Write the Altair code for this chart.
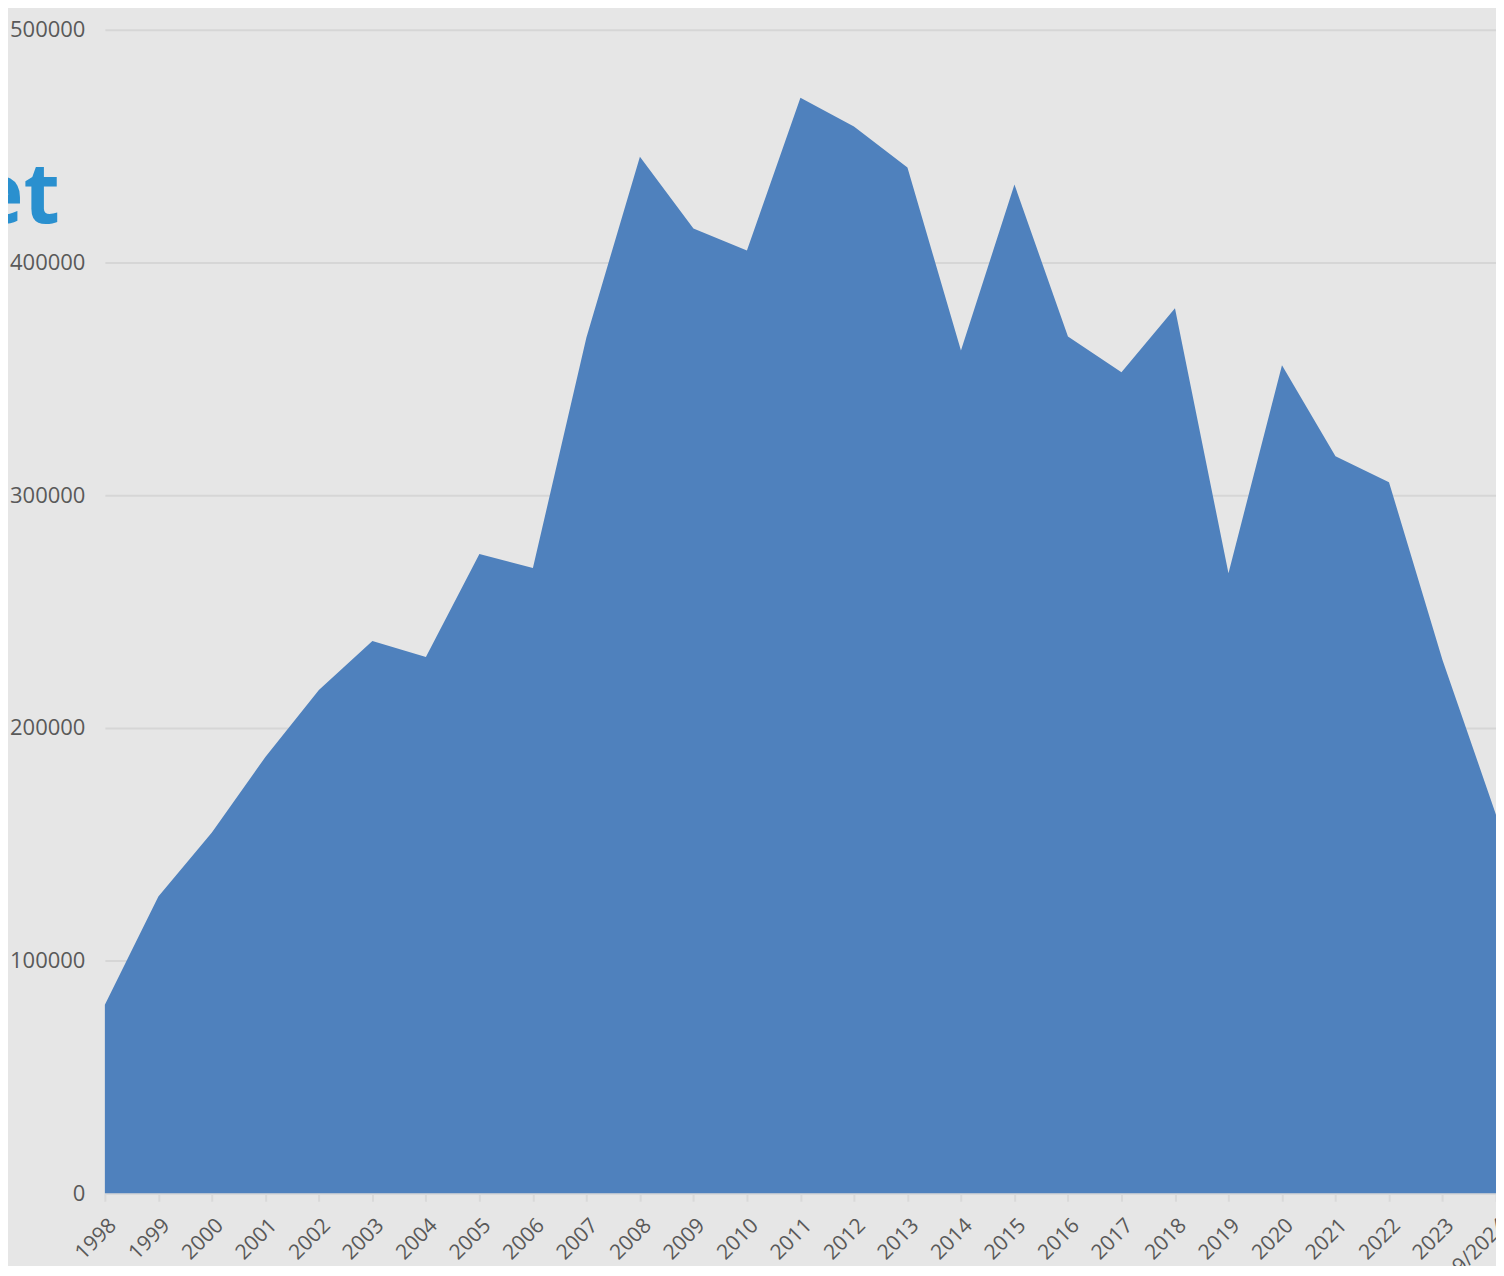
import altair as alt
import pandas as pd

years = ["1998", "1999", "2000", "2001", "2002", "2003", "2004", "2005", "2006",
         "2007", "2008", "2009", "2010", "2011", "2012", "2013", "2014", "2015",
         "2016", "2017", "2018", "2019", "2020", "2021", "2022", "2023", "9/2024"]
values = [81000, 127500, 155000, 187500, 216300, 237300, 230500, 274700, 268700,
          367800, 445500, 414600, 405200, 470800, 458400, 440800, 362200, 433500,
          368200, 352800, 380300, 266500, 355800, 316700, 305600, 229200, 162700]
y_ticks = [0, 100000, 200000, 300000, 400000, 500000]
title_fragment = "et"

df = pd.DataFrame({"year": years, "value": values})

FONT = "Open Sans"

area = alt.Chart(df).mark_area(color="#4f81bd", opacity=1).encode(
    x=alt.X("year:N", sort=None, title=None,
            scale=alt.Scale(type="point", padding=0),
            axis=alt.Axis(labelAngle=-45, labelAlign="right", labelBaseline="top",
                          labelFontSize=21, labelColor="#595959", labelFont=FONT,
                          labelPadding=13, domainColor="#d9d9d9", domainWidth=2,
                          tickColor="#d9d9d9", tickSize=8, tickWidth=2, grid=False,
                          labelOverlap=False)),
    y=alt.Y("value:Q", title=None,
            scale=alt.Scale(domain=[0, 500000], nice=False),
            axis=alt.Axis(values=y_ticks, format="d", labelFontSize=22,
                          labelColor="#595959", labelFont=FONT, labelPadding=20,
                          domain=False, ticks=False, gridColor="#d6d6d6",
                          gridWidth=2)),
)

title = alt.Chart(pd.DataFrame({"t": [title_fragment]})).mark_text(
    align="right", baseline="alphabetic", font=FONT, fontWeight="bold",
    fontSize=84, color="#2a90cf"
).encode(text="t:N", x=alt.value(-45), y=alt.value(193))

chart = alt.layer(area, title).properties(
    width=1393, height=1165,
    autosize=alt.AutoSizeParams(type="none"),
    padding={"left": 97, "top": 21, "right": 0, "bottom": 72},
).configure(background="#e6e6e6").configure_view(stroke=None)

chart.save("out.html", embed_options={"renderer": "svg", "actions": False})
